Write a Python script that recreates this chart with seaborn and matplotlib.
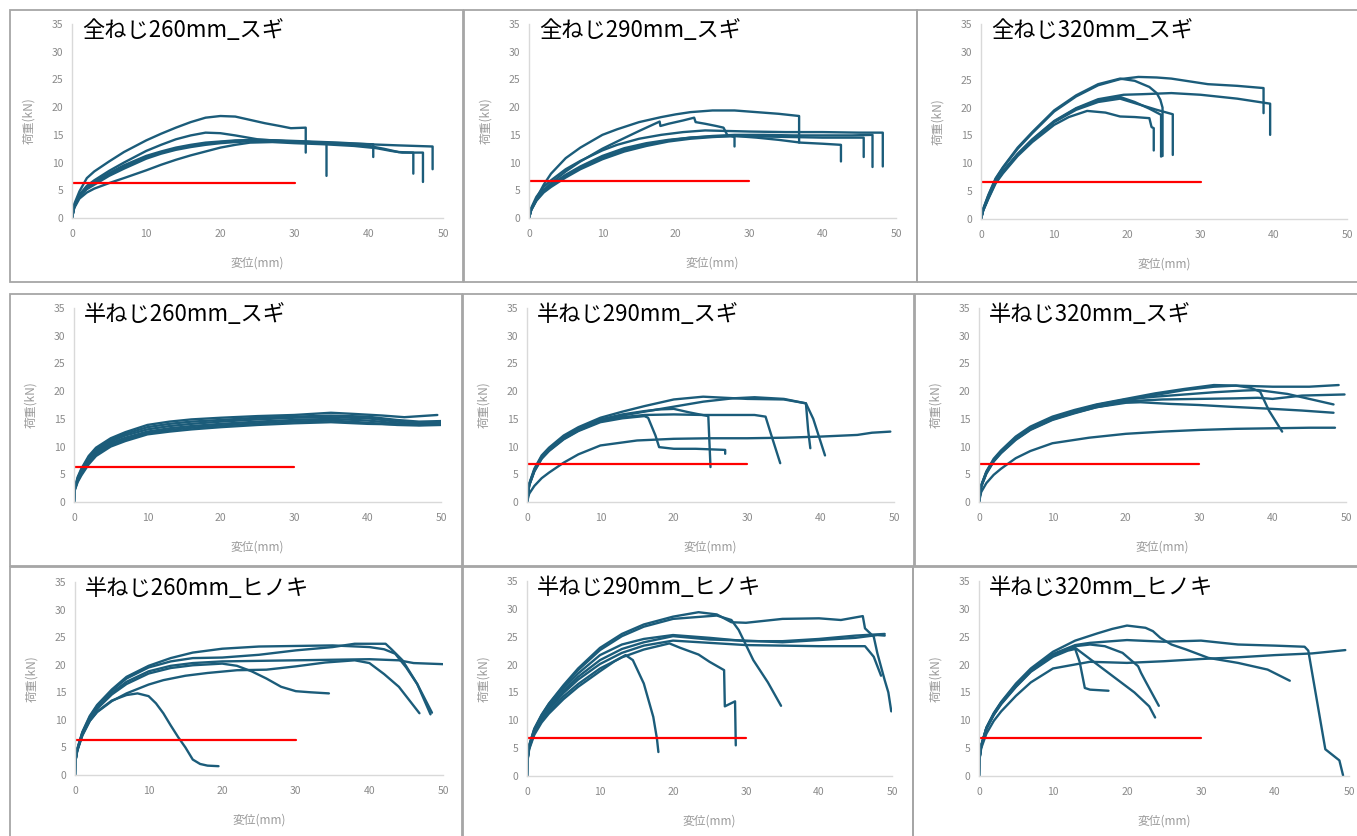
import matplotlib
matplotlib.use("Agg")
import matplotlib.pyplot as plt
import seaborn as sns
import pandas as pd
from matplotlib.patches import Rectangle

# ---------------- data ----------------
titles = ["全ねじ260mm_スギ", "全ねじ290mm_スギ", "全ねじ320mm_スギ",
          "半ねじ260mm_スギ", "半ねじ290mm_スギ", "半ねじ320mm_スギ",
          "半ねじ260mm_ヒノキ", "半ねじ290mm_ヒノキ", "半ねじ320mm_ヒノキ"]
red_levels = [6.4, 6.7, 6.7, 6.3, 6.8, 6.8, 6.3, 6.8, 6.8]
red_x = [0, 30]
x_ticks = [0, 10, 20, 30, 40, 50]
y_ticks = [0, 5, 10, 15, 20, 25, 30, 35]

zen260_x = [
    [0, 0.3, 1, 2, 3, 5, 7, 10, 12, 14, 16, 18, 20, 22, 24, 26, 28, 29.5, 31.5, 31.5],
    [0, 0.3, 1, 2, 3, 5, 7, 10, 12, 14, 16, 18, 20, 22, 25, 28, 32, 36, 40.6, 40.6],
    [0, 0.3, 1, 2, 3, 5, 7, 10, 12, 14, 16, 18, 20, 22, 24, 27, 30, 34, 38, 41, 43, 44.5, 47.3, 47.3],
    [0, 0.3, 1, 2, 3, 5, 7, 10, 12, 14, 16, 18, 20, 22, 25, 28, 31, 34.3, 34.3],
    [0, 0.3, 1, 2, 3, 5, 7, 10, 12, 14, 16, 18, 20, 22, 25, 28, 32, 36, 40, 42, 44, 46, 46],
    [0, 0.3, 1, 2, 3, 5, 7, 10, 12, 14, 16, 18, 20, 22, 25, 28, 32, 36, 40, 44, 48.6, 48.6],
]
zen260_y = [
    [0, 2.5, 4.8, 7.2, 8.4, 10.2, 11.9, 14.0, 15.2, 16.3, 17.3, 18.1, 18.4, 18.3, 17.7, 17.1, 16.6, 16.2, 16.3, 11.8],
    [0, 2, 4.2, 5.8, 6.8, 8.5, 10, 12.1, 13.2, 14.2, 14.9, 15.4, 15.3, 14.9, 14.2, 13.9, 13.7, 13.5, 13.3, 11.0],
    [0, 1.8, 3.5, 4.6, 5.3, 6.3, 7.2, 8.6, 9.6, 10.5, 11.3, 12.0, 12.7, 13.2, 13.6, 13.7, 13.5, 13.3, 13.0, 12.6, 12.1, 11.8, 11.8, 6.5],
    [0, 2, 3.9, 5.2, 6.0, 7.6, 8.9, 10.7, 11.6, 12.3, 12.8, 13.2, 13.5, 13.7, 13.9, 13.8, 13.6, 13.5, 7.6],
    [0, 2, 4, 5.4, 6.3, 7.9, 9.2, 10.9, 11.8, 12.5, 13.0, 13.4, 13.7, 13.9, 14.0, 13.9, 13.7, 13.4, 13.0, 12.5, 11.9, 11.8, 8.0],
    [0, 2.1, 4.1, 5.5, 6.5, 8.1, 9.5, 11.2, 12.0, 12.7, 13.2, 13.6, 13.8, 14.0, 14.1, 14.0, 13.8, 13.6, 13.3, 13.1, 12.9, 8.8],
]

zen290_x = [
    [0, 0.3, 1, 2, 3, 5, 7, 10, 12, 15, 18, 20, 22, 25, 28, 31, 34, 36.8, 36.8],
    [0, 0.3, 1, 2, 3, 5, 7, 10, 12, 15, 17.8, 17.9, 19, 21, 22.5, 22.7, 24, 25.5, 26.5, 27, 28, 28],
    [0, 0.3, 1, 2, 3, 5, 7, 10, 12, 15, 18, 21, 24, 27, 30, 35, 40, 45, 48.2, 48.2],
    [0, 0.3, 1, 2, 3, 5, 7, 10, 13, 16, 19, 22, 25, 28, 32, 36, 40, 44, 46.8, 46.8],
    [0, 0.3, 1, 2, 3, 5, 7, 10, 13, 16, 19, 22, 25, 28, 32, 36, 40, 45.6, 45.6],
    [0, 0.3, 1, 2, 3, 5, 7, 10, 13, 16, 19, 22, 25, 28, 31, 34, 37, 40, 42.5, 42.5],
]
zen290_y = [
    [0, 1.5, 3.5, 6.0, 8.0, 10.8, 12.7, 15.0, 16.0, 17.3, 18.2, 18.7, 19.1, 19.4, 19.4, 19.1, 18.8, 18.4, 13.6],
    [0, 1.5, 3.2, 5, 6.3, 8.4, 10.2, 12.5, 13.8, 15.7, 17.4, 16.6, 17.0, 17.6, 18.1, 17.3, 17.0, 16.6, 16.3, 15.0, 14.6, 12.9],
    [0, 1.8, 3.8, 5.6, 6.8, 8.8, 10.3, 12.2, 13.2, 14.3, 15.0, 15.5, 15.8, 15.7, 15.6, 15.5, 15.5, 15.4, 15.4, 9.3],
    [0, 1.5, 3.3, 4.8, 5.8, 7.6, 9.1, 10.9, 12.3, 13.3, 14.0, 14.5, 14.8, 15.0, 15.0, 14.9, 14.9, 14.9, 15.0, 9.2],
    [0, 1.4, 3.1, 4.6, 5.6, 7.3, 8.8, 10.6, 12.0, 13.0, 13.8, 14.3, 14.6, 14.8, 14.7, 14.6, 14.5, 14.5, 11.0],
    [0, 1.6, 3.4, 5.0, 6.0, 7.8, 9.3, 11.2, 12.6, 13.5, 14.1, 14.5, 14.7, 14.8, 14.5, 14.1, 13.6, 13.4, 13.2, 10.2],
]

zen320_x = [
    [0, 0.3, 1, 2, 3, 5, 7, 10, 13, 16, 19, 21.5, 24, 26, 28, 31, 35, 38.6, 38.6],
    [0, 0.3, 1, 2, 3, 5, 7, 10, 13, 16, 19, 21, 23, 24, 24.5, 24.8, 24.8],
    [0, 0.3, 1, 2, 3, 5, 7, 10, 13, 16, 19.5, 22, 26, 30, 35, 38, 39.5, 39.5],
    [0, 0.3, 1, 2, 3, 5, 7, 10, 13, 16, 19, 21, 24, 26.2, 26.2],
    [0, 0.3, 1, 2, 3, 5, 7, 10, 12, 14.5, 17, 19, 21, 23, 23.3, 23.6, 23.6],
    [0, 0.3, 1, 2, 3, 5, 7, 10, 13, 16, 19, 21, 23, 24.6, 24.6],
]
zen320_y = [
    [0, 1.8, 4.2, 7.2, 9.2, 12.6, 15.4, 19.3, 22.0, 24.0, 25.1, 25.5, 25.4, 25.2, 24.8, 24.2, 23.9, 23.5, 19.0],
    [0, 1.8, 4.3, 7.3, 9.3, 12.8, 15.6, 19.5, 22.2, 24.2, 25.2, 24.8, 23.7, 22.6, 21.4, 20.0, 11.3],
    [0, 1.6, 3.9, 6.8, 8.6, 11.7, 14.3, 17.6, 19.9, 21.5, 22.3, 22.4, 22.6, 22.3, 21.6, 21.0, 20.7, 15.1],
    [0, 1.6, 3.8, 6.6, 8.4, 11.5, 14.1, 17.4, 19.6, 21.0, 21.6, 20.8, 19.6, 18.8, 11.5],
    [0, 1.5, 3.6, 6.4, 8.2, 11.3, 13.8, 16.9, 18.3, 19.4, 19.1, 18.4, 18.3, 18.1, 16.5, 16.3, 12.3],
    [0, 1.6, 3.8, 6.6, 8.5, 11.6, 14.2, 17.5, 19.8, 21.3, 21.9, 21.0, 19.8, 18.7, 11.2],
]

han260s_x = [
    [0, 0.1, 0.5, 1, 2, 3, 5, 7, 10, 13, 16, 20, 25, 30, 35, 38, 42, 45, 49.5],
    [0, 0.1, 0.5, 1, 2, 3, 5, 7, 10, 13, 16, 20, 25, 30, 35, 40, 44, 47, 50],
    [0, 0.1, 0.5, 1, 2, 3, 5, 7, 10, 13, 16, 20, 25, 30, 35, 40, 44, 47, 50],
    [0, 0.1, 0.5, 1, 2, 3, 5, 7, 10, 13, 16, 20, 25, 30, 35, 40, 44, 47, 50],
    [0, 0.1, 0.5, 1, 2, 3, 5, 7, 10, 13, 16, 20, 25, 30, 35, 40, 44, 47, 50],
    [0, 0.1, 0.5, 1, 2, 3, 5, 7, 10, 13, 16, 20, 25, 30, 35, 40, 44, 47, 50],
]
han260s_y = [
    [0, 2.5, 4.5, 6.0, 8.3, 9.8, 11.5, 12.6, 13.9, 14.5, 14.9, 15.2, 15.5, 15.7, 16.1, 15.9, 15.6, 15.3, 15.7],
    [0, 2.5, 4.3, 5.8, 8.0, 9.5, 11.2, 12.3, 13.5, 14.1, 14.5, 14.8, 15.2, 15.4, 15.6, 15.4, 14.8, 14.5, 14.6],
    [0, 2.4, 4.1, 5.5, 7.7, 9.2, 10.9, 12.0, 13.1, 13.7, 14.1, 14.5, 14.9, 15.2, 15.3, 15.1, 14.5, 14.2, 14.3],
    [0, 2.3, 4.0, 5.3, 7.4, 8.9, 10.6, 11.6, 12.7, 13.3, 13.7, 14.1, 14.5, 14.8, 15.0, 14.7, 14.2, 13.9, 14.0],
    [0, 2.2, 3.8, 5.0, 7.1, 8.6, 10.3, 11.3, 12.4, 13.0, 13.4, 13.8, 14.2, 14.5, 14.7, 14.3, 13.9, 13.8, 13.9],
    [0, 2.1, 3.6, 4.8, 6.8, 8.3, 10.0, 11.0, 12.2, 12.7, 13.1, 13.5, 13.9, 14.2, 14.4, 14.1, 14.0, 14.1, 14.2],
]

han290s_x = [
    [0, 0.3, 1, 2, 3, 5, 7, 10, 15, 20, 25, 30, 35, 40, 45, 47, 49.5],
    [0, 0.3, 1, 2, 3, 5, 7, 10, 13, 16, 16.5, 17.5, 18, 20, 23, 25, 27, 27],
    [0, 0.3, 1, 2, 3, 5, 7, 10, 13, 16, 18, 20, 22, 23.5, 24.7, 25],
    [0, 0.3, 1, 2, 3, 5, 7, 10, 13, 16, 20, 24, 28, 31, 32.5, 33.3, 34.5],
    [0, 0.3, 1, 2, 3, 5, 7, 10, 13, 16, 20, 24, 27, 30, 35, 38, 38.3, 38.6],
    [0, 0.3, 1, 2, 3, 5, 7, 10, 13, 16, 20, 24, 28, 31, 35, 38, 39, 40.6],
]
han290s_y = [
    [0, 1.5, 2.9, 4.3, 5.3, 7.1, 8.6, 10.2, 11.1, 11.4, 11.5, 11.5, 11.6, 11.8, 12.1, 12.5, 12.7],
    [0, 3.0, 5.5, 7.8, 9.2, 11.3, 12.8, 14.4, 15.1, 15.5, 15.2, 12.0, 9.9, 9.6, 9.6, 9.5, 9.4, 8.7],
    [0, 3.2, 5.8, 8.2, 9.6, 11.8, 13.3, 14.9, 15.8, 16.4, 16.7, 16.8, 16.2, 15.8, 15.5, 6.3],
    [0, 3.1, 5.7, 8.0, 9.4, 11.5, 13.0, 14.6, 15.3, 15.7, 15.8, 15.7, 15.7, 15.7, 15.4, 12.0, 7.0],
    [0, 3.3, 6.0, 8.4, 9.8, 12.0, 13.5, 15.2, 16.3, 17.3, 18.5, 19.0, 18.8, 18.6, 18.5, 17.8, 13.0, 9.7],
    [0, 3.0, 5.6, 7.9, 9.3, 11.4, 12.9, 14.6, 15.6, 16.3, 17.2, 18.1, 18.7, 18.9, 18.6, 17.8, 15.0, 8.4],
]

han320s_x = [
    [0, 0.3, 1, 2, 3, 5, 7, 10, 15, 20, 25, 30, 35, 40, 45, 48.5],
    [0, 0.3, 1, 2, 3, 5, 7, 10, 13, 16, 20, 24, 28, 32, 35, 37, 38.3, 39.5, 41.3],
    [0, 0.3, 1, 2, 3, 5, 7, 10, 13, 16, 20, 24, 28, 32, 35, 40, 45, 49],
    [0, 0.3, 1, 2, 3, 5, 7, 10, 13, 16, 20, 22, 25, 30, 35, 38, 40, 44, 49.8],
    [0, 0.3, 1, 2, 3, 5, 7, 10, 13, 16, 20, 24, 28, 32, 36, 38, 42, 45, 48.3],
    [0, 0.3, 1, 2, 3, 5, 7, 10, 13, 16, 20, 22, 26, 30, 34, 37, 40, 44, 48.3],
]
han320s_y = [
    [0, 1.8, 3.4, 4.9, 6.0, 7.9, 9.2, 10.6, 11.6, 12.3, 12.7, 13.0, 13.2, 13.3, 13.4, 13.4],
    [0, 3.0, 5.5, 7.8, 9.3, 11.8, 13.6, 15.4, 16.6, 17.6, 18.6, 19.6, 20.4, 21.1, 21.0, 20.6, 19.9, 16.5, 12.7],
    [0, 2.9, 5.3, 7.5, 9.0, 11.4, 13.2, 15.0, 16.2, 17.3, 18.3, 19.3, 20.2, 20.8, 21.0, 20.8, 20.8, 21.1],
    [0, 2.8, 5.1, 7.3, 8.8, 11.2, 13.0, 14.8, 16.0, 17.1, 18.1, 18.3, 18.5, 18.6, 18.7, 18.8, 18.6, 19.2, 19.4],
    [0, 2.9, 5.4, 7.6, 9.1, 11.6, 13.4, 15.2, 16.4, 17.5, 18.5, 19.0, 19.4, 19.8, 20.1, 20.2, 19.5, 18.6, 17.6],
    [0, 2.8, 5.2, 7.4, 8.9, 11.3, 13.1, 14.9, 16.1, 17.1, 17.9, 18.0, 17.7, 17.5, 17.2, 17.0, 16.8, 16.5, 16.1],
]

han260h_x = [
    [0, 0.05, 0.3, 1, 2, 3, 5, 7, 8.5, 10, 11, 12, 13, 14, 15, 16, 17, 18, 19.5],
    [0, 0.05, 0.3, 1, 2, 3, 5, 7, 10, 13, 16, 20, 22, 24, 26, 28, 30, 32, 34.5],
    [0, 0.05, 0.3, 1, 2, 3, 5, 7, 10, 12, 15, 18, 22, 26, 30, 34, 38, 40, 42, 44, 46.8],
    [0, 0.05, 0.3, 1, 2, 3, 5, 7, 10, 13, 16, 20, 25, 30, 35, 40, 44, 46, 50],
    [0, 0.05, 0.3, 1, 2, 3, 5, 7, 10, 13, 16, 20, 25, 30, 35, 40, 42, 43.5, 45, 46.5, 48.5],
    [0, 0.05, 0.3, 1, 2, 3, 5, 7, 10, 13, 16, 20, 25, 30, 35, 38, 42.2, 43, 44.5, 46.5, 48.3],
]
han260h_y = [
    [0, 2.5, 4.5, 7.2, 9.8, 11.5, 13.5, 14.5, 14.8, 14.3, 13.0, 11.2, 9.0, 6.9, 5.0, 2.8, 2.0, 1.7, 1.6],
    [0, 2.5, 4.5, 7.5, 10.2, 12.0, 14.6, 16.5, 18.4, 19.4, 19.9, 20.2, 19.8, 18.8, 17.5, 16.0, 15.2, 15.0, 14.8],
    [0, 2.4, 4.3, 7.2, 9.8, 11.4, 13.4, 14.8, 16.4, 17.2, 18.0, 18.5, 19.0, 19.1, 19.7, 20.4, 20.8, 20.3, 18.3, 16.0, 11.2],
    [0, 2.5, 4.5, 7.5, 10.3, 12.2, 14.9, 16.9, 18.8, 19.8, 20.3, 20.6, 20.7, 20.8, 20.9, 21.0, 20.8, 20.3, 20.1],
    [0, 2.6, 4.7, 7.8, 10.7, 12.7, 15.5, 17.8, 19.8, 21.2, 22.2, 22.9, 23.3, 23.4, 23.5, 23.2, 22.8, 22.0, 19.5, 16.5, 11.3],
    [0, 2.6, 4.6, 7.7, 10.5, 12.5, 15.3, 17.5, 19.5, 20.6, 21.2, 21.3, 21.8, 22.6, 23.2, 23.8, 23.8, 22.8, 20.8, 16.5, 11.0],
]

han290h_x = [
    [0, 0.05, 0.3, 1, 2, 3, 5, 7, 10, 13, 16, 20, 23.5, 26, 28, 30, 35, 40, 43, 46, 46.3, 47.5, 48, 49, 49.5, 49.9],
    [0, 0.05, 0.3, 1, 2, 3, 5, 7, 10, 13, 16, 20, 23, 26, 28, 29, 31, 33, 34.8],
    [0, 0.05, 0.3, 1, 2, 3, 5, 7, 10, 13, 16, 20, 25, 30, 35, 40, 45, 48, 49],
    [0, 0.05, 0.3, 1, 2, 3, 5, 7, 10, 13, 16, 20, 25, 30, 35, 40, 46.3, 47.5, 48.5],
    [0, 0.05, 0.3, 1, 2, 3, 5, 7, 10, 13, 16, 19.5, 21, 23.5, 25, 27, 27.1, 28.5, 28.6],
    [0, 0.05, 0.3, 1, 2, 3, 5, 7, 10, 12, 13.5, 14.5, 16, 17.3, 17.8, 18],
    [0, 0.05, 0.3, 1, 2, 3, 5, 7, 10, 13, 16, 20, 25, 30, 35, 40, 45, 49],
]
han290h_y = [
    [0, 3, 5.5, 8.5, 11.0, 13.0, 16.3, 19.3, 23.0, 25.5, 27.2, 28.6, 29.4, 29.0, 27.6, 27.5, 28.2, 28.3, 28.0, 28.7, 26.5, 25.0, 22.0, 17.2, 15.0, 11.6],
    [0, 3, 5.5, 8.4, 10.9, 12.9, 16.1, 19.0, 22.6, 25.1, 26.8, 28.2, 28.5, 28.8, 28.0, 26.2, 20.8, 16.8, 12.6],
    [0, 2.8, 5.2, 8.0, 10.4, 12.2, 15.2, 17.8, 20.8, 22.8, 24.0, 25.1, 24.5, 24.3, 24.0, 24.4, 24.8, 25.3, 25.2],
    [0, 2.8, 5.2, 7.9, 10.2, 12.0, 14.9, 17.3, 20.1, 22.1, 23.4, 24.3, 23.9, 23.5, 23.4, 23.3, 23.3, 21.4, 18.0],
    [0, 2.7, 5.0, 7.7, 9.9, 11.6, 14.3, 16.5, 19.3, 21.3, 22.7, 23.8, 23.0, 21.8, 20.5, 19.0, 12.5, 13.4, 5.5],
    [0, 2.6, 4.8, 7.4, 9.6, 11.2, 13.8, 16.0, 18.8, 20.6, 21.7, 20.8, 16.6, 10.6, 6.7, 4.3],
    [0, 2.9, 5.4, 8.2, 10.7, 12.6, 15.7, 18.4, 21.7, 23.6, 24.6, 25.3, 24.8, 24.2, 24.2, 24.6, 25.2, 25.5],
]

han320h_x = [
    [0, 0.05, 0.3, 1, 2, 3, 5, 7, 10, 13, 16, 18, 20, 22.5, 23.5, 24.5, 26, 28, 31, 35, 39, 42],
    [0, 0.05, 0.3, 1, 2, 3, 5, 7, 10, 13, 15, 20, 25, 30, 35, 40, 44, 44.5, 46.8, 48.7, 49.2],
    [0, 0.05, 0.3, 1, 2, 3, 5, 7, 10, 15, 20, 25, 30, 35, 40, 45, 49.5],
    [0, 0.05, 0.3, 1, 2, 3, 5, 7, 10, 12, 13, 13.6, 14.3, 15, 17.5],
    [0, 0.05, 0.3, 1, 2, 3, 5, 7, 10, 13, 15, 17, 19.4, 21.5, 21.9, 22.5, 24.3],
    [0, 0.05, 0.3, 1, 2, 3, 5, 7, 10, 12, 13, 15, 18, 21, 23, 23.8],
]
han320h_y = [
    [0, 3, 5.5, 8.7, 11.3, 13.3, 16.6, 19.3, 22.3, 24.3, 25.6, 26.4, 27.0, 26.6, 26.0, 24.8, 23.6, 22.7, 21.2, 20.3, 19.1, 17.1],
    [0, 3, 5.4, 8.6, 11.2, 13.2, 16.4, 19.0, 21.9, 23.5, 23.9, 24.4, 24.1, 24.3, 23.6, 23.4, 23.2, 22.5, 4.8, 2.8, 0.1],
    [0, 2.8, 5.0, 7.6, 9.9, 11.6, 14.4, 16.8, 19.3, 20.5, 20.3, 20.6, 21.0, 21.3, 21.7, 22.0, 22.6],
    [0, 3, 5.4, 8.5, 11.0, 12.9, 16.0, 18.7, 21.4, 22.5, 22.8, 20.5, 15.8, 15.5, 15.3],
    [0, 3, 5.4, 8.6, 11.1, 13.1, 16.2, 18.9, 21.7, 23.3, 23.6, 23.3, 22.1, 19.7, 18.5, 17.0, 12.6],
    [0, 3, 5.4, 8.5, 11.0, 13.0, 16.1, 18.8, 21.6, 22.7, 23.0, 21.0, 18.0, 15.0, 12.5, 10.5],
]

panel_x = [zen260_x, zen290_x, zen320_x, han260s_x, han290s_x, han320s_x, han260h_x, han290h_x, han320h_x]
panel_y = [zen260_y, zen290_y, zen320_y, han260s_y, han290s_y, han320s_y, han260h_y, han290h_y, han320h_y]

# ---------------- styling / layout ----------------
W, H = 1357, 836
LINE = "#1B5C7A"
sns.set_theme(style="white")
plt.rcParams["font.family"] = ["Noto Sans CJK JP", "DejaVu Sans"]

fig = plt.figure(figsize=(W / 100, H / 100), dpi=100)

# panel frames (pixel boxes: x0, y0, x1, y1)
frames = [(10, 10, 463, 282), (464, 10, 917, 282), (917, 10, 1362, 282),
          (10, 294, 462, 566), (463, 294, 914, 566), (915, 294, 1362, 566),
          (10, 567, 462, 842), (463, 567, 913, 842), (913, 567, 1362, 842)]
for (x0, y0, x1, y1) in frames:
    fig.add_artist(Rectangle((x0 / W, 1 - y1 / H), (x1 - x0) / W, (y1 - y0) / H,
                             transform=fig.transFigure, fill=False,
                             edgecolor="#A6A6A6", linewidth=1.3))

# plot areas (pixel: left, top(y=35), right(x=50), bottom(y=0))
areas = [(72, 24, 443, 218), (529, 24, 896, 218), (981, 24, 1347, 219),
         (74, 308, 441, 502), (527, 308, 894, 502), (979, 308, 1346, 502),
         (75, 582, 443, 775), (527, 581, 892, 776), (979, 581, 1349, 776)]

for i, (l, t, r, b) in enumerate(areas):
    ax = fig.add_axes([l / W, 1 - b / H, (r - l) / W, (b - t) / H])
    rows = []
    for k, (xs, ys) in enumerate(zip(panel_x[i], panel_y[i])):
        for o, (xv, yv) in enumerate(zip(xs, ys)):
            rows.append({"x": xv, "y": yv, "curve": k, "order": o})
    df = pd.DataFrame(rows)
    sns.lineplot(data=df, x="x", y="y", units="curve", estimator=None, sort=False,
                 color=LINE, linewidth=1.7, ax=ax, legend=False)
    sns.lineplot(x=red_x, y=[red_levels[i]] * 2, color="#FF0000", linewidth=1.6,
                 ax=ax, legend=False)
    ax.set_xlim(0, 50)
    ax.set_ylim(0, 35)
    ax.set_xticks(x_ticks)
    ax.set_yticks(y_ticks)
    ax.tick_params(length=0, labelsize=7.5, labelcolor="#8A8A8A", pad=6)
    ax.tick_params(axis="x", pad=8)
    for s in ["top", "right"]:
        ax.spines[s].set_visible(False)
    for s in ["left", "bottom"]:
        ax.spines[s].set_color("#D9D9D9")
        ax.spines[s].set_linewidth(1.0)
    ax.set_xlabel("変位(mm)", fontsize=8.5, color="#9A9A9A")
    ax.set_ylabel("荷重(kN)", fontsize=8.5, color="#9A9A9A")
    ax.xaxis.set_label_coords(0.5, -39 / (b - t))
    ax.yaxis.set_label_coords(-37 / (r - l), 0.5)
    ax.set_facecolor("none")
    ax.text(10 / (r - l), 1 + 5 / (b - t), titles[i], transform=ax.transAxes,
            ha="left", va="top", fontsize=16, color="#000000")

fig.savefig("out.png", dpi=100)
